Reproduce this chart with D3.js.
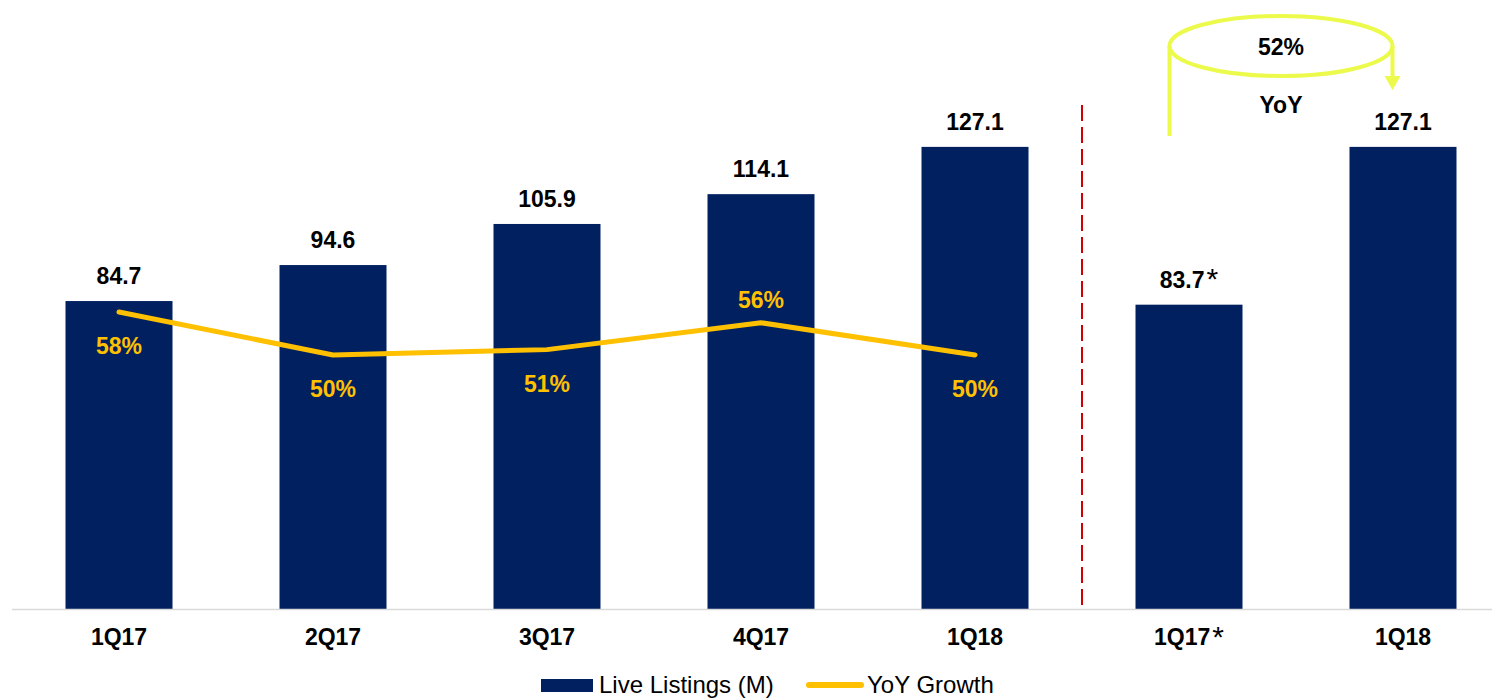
<!DOCTYPE html>
<html>
<head>
<meta charset="utf-8">
<script src="https://cdn.jsdelivr.net/npm/d3@7"></script>
<style>
  body { margin: 0; background: #fff; }
  svg { display: block; font-family: "Liberation Sans", Arial, sans-serif; }
</style>
</head>
<body>
<svg width="1492" height="698"></svg>
<script>
var categories = ["1Q17", "2Q17", "3Q17", "4Q17", "1Q18", "1Q17*", "1Q18 "];
var listings = [84.7, 94.6, 105.9, 114.1, 127.1, 83.7, 127.1];
var listingLabels = ["84.7", "94.6", "105.9", "114.1", "127.1", "83.7*", "127.1"];
var growthCats = ["1Q17", "2Q17", "3Q17", "4Q17", "1Q18"];
var growth = [58, 50, 51, 56, 50];
var growthLabelPos = ["below", "below", "below", "above", "below"];
var yoyNote = "52%";

var navy = "#002060", gold = "#FFC000", lime = "#EBFA4B";

var svg = d3.select("svg"),
    width = +svg.attr("width"),
    height = +svg.attr("height");

var x = d3.scaleBand().domain(categories).range([12, 1510]).paddingInner(0.5).paddingOuter(0.25);
var y = d3.scaleLinear().domain([0, 167.5]).range([609, 0]);
var y2 = d3.scaleLinear().domain([50, 58]).range([355, 312]);

// writes label text, the trailing * bigger and lighter like the original
function starText(sel, str) {
  str = str.trim();
  if (str.slice(-1) == "*") {
    sel.text(str.slice(0, -1));
    sel.append("tspan").attr("font-weight", "normal").attr("font-size", 30)
      .attr("dx", 2).attr("dy", 1.5).text("*");
  } else {
    sel.text(str);
  }
}

// bars
svg.selectAll("rect.bar")
  .data(listings)
  .enter().append("rect")
  .attr("class", "bar")
  .attr("x", function(d, i) { return x(categories[i]); })
  .attr("y", function(d) { return y(d); })
  .attr("width", x.bandwidth())
  .attr("height", function(d) { return y(0) - y(d); })
  .attr("fill", navy);

// axis line
svg.append("line")
  .attr("x1", 12).attr("x2", width)
  .attr("y1", y(0) + 0.5).attr("y2", y(0) + 0.5)
  .attr("stroke", "#d9d9d9").attr("stroke-width", 1.5);

// category labels
var xAxis = svg.append("g")
  .attr("transform", "translate(0," + y(0) + ")")
  .call(d3.axisBottom(x).tickSize(0).tickPadding(20));
xAxis.select(".domain").remove();
xAxis.selectAll("text")
  .attr("fill", "#000")
  .attr("font-size", 23)
  .attr("font-weight", "bold")
  .attr("font-family", "Liberation Sans, Arial, sans-serif")
  .each(function(d) { starText(d3.select(this), d); });

// bar value labels
svg.selectAll("text.val")
  .data(listings)
  .enter().append("text")
  .attr("class", "val")
  .attr("x", function(d, i) { return x(categories[i]) + x.bandwidth() / 2; })
  .attr("y", function(d) { return y(d) - 17; })
  .attr("text-anchor", "middle")
  .attr("font-size", 23)
  .attr("font-weight", "bold")
  .attr("fill", "#000")
  .each(function(d, i) { starText(d3.select(this), listingLabels[i]); });

// YoY growth line
var line = d3.line()
  .x(function(d, i) { return x(growthCats[i]) + x.bandwidth() / 2; })
  .y(function(d) { return y2(d); });

svg.append("path")
  .datum(growth)
  .attr("d", line)
  .attr("fill", "none")
  .attr("stroke", gold)
  .attr("stroke-width", 5)
  .attr("stroke-linecap", "round")
  .attr("stroke-linejoin", "round");

svg.selectAll("text.growth")
  .data(growth)
  .enter().append("text")
  .attr("class", "growth")
  .attr("x", function(d, i) { return x(growthCats[i]) + x.bandwidth() / 2; })
  .attr("y", function(d, i) { return growthLabelPos[i] == "above" ? y2(d) - 15 : y2(d) + 42; })
  .attr("text-anchor", "middle")
  .attr("font-size", 23)
  .attr("font-weight", "bold")
  .attr("fill", gold)
  .text(function(d) { return d + "%"; });

// red dashed divider
var divX = (x(categories[4]) + x.bandwidth() + x(categories[5])) / 2;
svg.append("line")
  .attr("x1", divX).attr("x2", divX)
  .attr("y1", 105).attr("y2", 606)
  .attr("stroke", "#D00000")
  .attr("stroke-width", 2)
  .attr("stroke-dasharray", "16,6");

// YoY annotation (cylinder-ish arrow)
var leftX = x(categories[5]) + 34, rightX = x(categories[6]) + 43;
var midX = (leftX + rightX) / 2;
var ann = svg.append("g");
ann.append("ellipse")
  .attr("cx", midX).attr("cy", 46)
  .attr("rx", (rightX - leftX) / 2).attr("ry", 30)
  .attr("fill", "none").attr("stroke", lime).attr("stroke-width", 4);
ann.append("line")
  .attr("x1", leftX).attr("x2", leftX)
  .attr("y1", 46).attr("y2", 136)
  .attr("stroke", lime).attr("stroke-width", 4);
ann.append("line")
  .attr("x1", rightX).attr("x2", rightX)
  .attr("y1", 46).attr("y2", 78)
  .attr("stroke", lime).attr("stroke-width", 4);
ann.append("path")
  .attr("d", "M" + (rightX - 8) + ",76 L" + (rightX + 8) + ",76 L" + rightX + ",90 Z")
  .attr("fill", lime);
ann.append("text")
  .attr("x", midX).attr("y", 55)
  .attr("text-anchor", "middle")
  .attr("font-size", 23).attr("font-weight", "bold")
  .text(yoyNote);
ann.append("text")
  .attr("x", midX).attr("y", 113)
  .attr("text-anchor", "middle")
  .attr("font-size", 23).attr("font-weight", "bold")
  .text("YoY");

// legend
var lg = svg.append("g").attr("transform", "translate(541,676)");
lg.append("rect").attr("x", 0).attr("y", 3).attr("width", 52).attr("height", 13).attr("fill", navy);
lg.append("text").attr("x", 58).attr("y", 17).attr("font-size", 24).attr("fill", "#000").text("Live Listings (M)");
lg.append("line").attr("x1", 268).attr("x2", 320).attr("y1", 9).attr("y2", 9)
  .attr("stroke", gold).attr("stroke-width", 6).attr("stroke-linecap", "round");
lg.append("text").attr("x", 326).attr("y", 17).attr("font-size", 24).attr("fill", "#000").text("YoY Growth");
</script>
</body>
</html>
